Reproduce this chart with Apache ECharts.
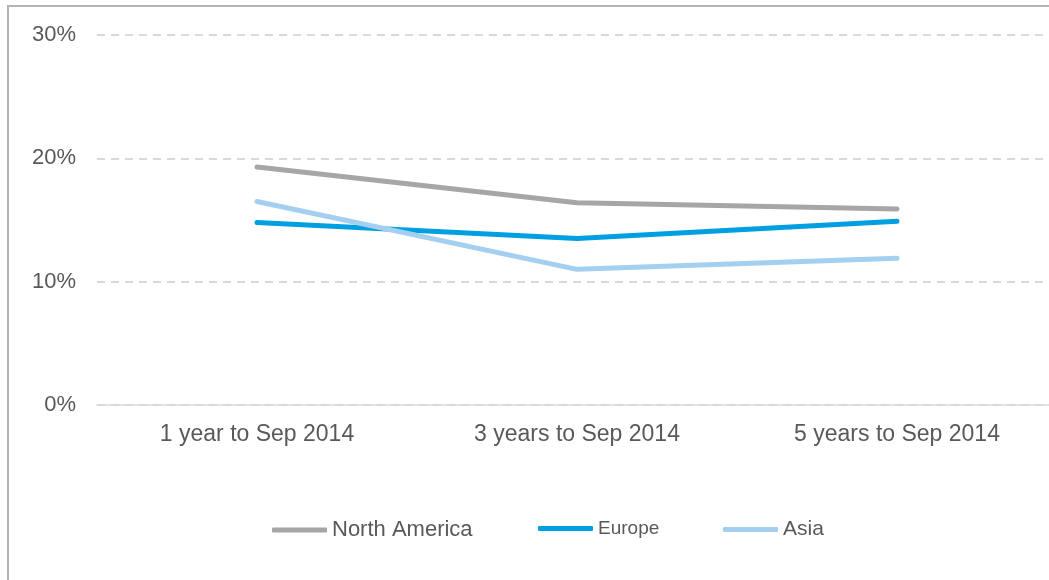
<!DOCTYPE html>
<html>
<head>
<meta charset="utf-8">
<script src="https://cdn.jsdelivr.net/npm/echarts@6/dist/echarts.min.js"></script>
<style>
  html, body { margin: 0; padding: 0; background: #fff; overflow: hidden; }
  #chart { width: 1057px; height: 580px; }
</style>
</head>
<body>
<div id="chart"></div>
<script>
// Annualised returns by region over three horizons
const categories = ['1 year to Sep 2014', '3 years to Sep 2014', '5 years to Sep 2014'];
const northAmerica = [19.3, 16.4, 15.9];
const europe = [14.8, 13.5, 14.9];
const asia = [16.5, 11.0, 11.9];
const yTicks = [0, 10, 20, 30];

const FONT = '"Liberation Sans", Arial, sans-serif';
const TEXT = '#595959';
const COLORS = { na: '#a6a6a6', eu: '#009fdf', as: '#a3cff0' };

const chart = echarts.init(document.getElementById('chart'));

function legendAt(name, left, fontSize) {
  return {
    left: left, top: 519, padding: 0,
    itemWidth: 55, itemHeight: 5,
    icon: 'roundRect',
    data: [{ name: name, textStyle: { fontSize: fontSize } }],
    textStyle: { color: TEXT, fontFamily: FONT, fontSize: 22 }
  };
}

chart.setOption({
  animation: false,
  backgroundColor: '#fff',
  graphic: [
    { type: 'line', shape: { x1: 8, y1: 5, x2: 8, y2: 580 }, style: { stroke: '#b3b3b3', lineWidth: 2 } },
    { type: 'line', shape: { x1: 7, y1: 6, x2: 1057, y2: 6 }, style: { stroke: '#b3b3b3', lineWidth: 2 } }
  ],
  grid: { left: 97, right: 0, top: 35, height: 370, containLabel: false },
  legend: [
    legendAt('North America', 272, 22),
    legendAt('Europe', 538, 19),
    legendAt('Asia', 723, 21)
  ],
  xAxis: {
    type: 'category',
    data: categories,
    boundaryGap: true,
    axisLine: { show: true, lineStyle: { color: '#d9d9d9', width: 1.5 } },
    axisTick: { show: false },
    axisLabel: { color: TEXT, fontFamily: FONT, fontSize: 23, margin: 18 }
  },
  yAxis: {
    type: 'value',
    min: yTicks[0], max: yTicks[yTicks.length - 1], interval: 10,
    axisLine: { show: false },
    axisTick: { show: false },
    axisLabel: { color: TEXT, fontFamily: FONT, fontSize: 22, margin: 21, formatter: '{value}%', padding: [3, 0, 0, 0] },
    splitLine: { lineStyle: { color: '#d9d9d9', width: 2, type: [8, 6] } }
  },
  series: [
    { name: 'North America', type: 'line', data: northAmerica, color: COLORS.na },
    { name: 'Europe', type: 'line', data: europe, color: COLORS.eu },
    { name: 'Asia', type: 'line', data: asia, color: COLORS.as }
  ].map(s => Object.assign(s, {
    showSymbol: false, symbol: 'none',
    lineStyle: { width: 5, cap: 'round', join: 'round' }
  }))
});
</script>
</body>
</html>
